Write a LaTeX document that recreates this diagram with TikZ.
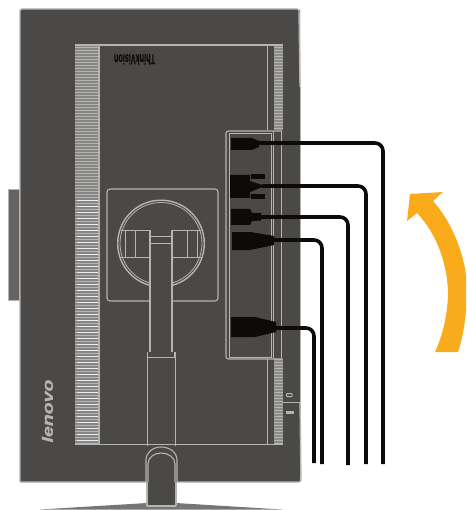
\documentclass[tikz,border=0pt]{standalone}
\usepackage{fontspec}
\setmainfont{Liberation Sans}
\newfontface\brandface[FakeBold=1.2]{Liberation Sans Bold Italic}
\newfontface\seriesface[FakeBold=0.8]{Liberation Sans Bold}
\definecolor{body}{HTML}{4B4947}
\definecolor{edge}{HTML}{B4B4B2}
\definecolor{vent}{HTML}{8C8B89}
\definecolor{ink}{HTML}{0C0B0A}
\definecolor{amber}{HTML}{F9AB1C}
\tikzset{
  outline/.style={draw=edge,line width=1.1pt},
  thinline/.style={draw=edge,line width=0.8pt},
  cable/.style={draw=ink,line width=3.6pt,rounded corners=8pt},
  plug/.style={fill=ink,draw=none}
}
\begin{document}
\begin{tikzpicture}[x=1pt,y=-1pt]
\useasboundingbox (0,0) rectangle (466,510);
% base
\fill[fill=vent!85!black] (40,509.5) -- (147,503) -- (176,503) -- (282,509.5) -- cycle;
% side piece
\fill[body!85!white,draw=edge,line width=1pt] (8.5,190) rectangle (19,300);
% body
\fill[body] (20,9) [rounded corners=2pt] -- (20,482) -- (300,482) -- (300,9) -- cycle;
\draw[edge,line width=1.4pt,rounded corners=2pt] (20,482) -- (20,9) -- (299,9) -- (300,87);
\draw[edge,line width=1.4pt,rounded corners=2pt] (300,402) -- (301,482) -- (20,482);
\draw[edge,line width=0.5pt] (300,87) -- (300,402);
\draw[thinline] (282,402) -- (301,402);
% left vent
\fill[vent!92!body] (75,45) rectangle (99,445);
\foreach \y in {47,50,...,443} \draw[edge,line width=0.4pt] (75,\y) -- (99,\y);
\foreach \y in {200,206,...,442} \draw[white!85!gray,line width=0.5pt] (77,\y) -- (99,\y);
\draw[outline] (99,45) -- (99,445);
% right vent
\fill[vent] (274,45) rectangle (283,445);
\foreach \y in {47,50,...,443} \draw[edge,line width=0.6pt] (274,\y) -- (283,\y);
% frame lines
\draw[outline] (75,45) -- (283,45);
\draw[outline] (75,444.5) -- (283,444.5);
\draw[thinline] (267,45) -- (267,130);
\draw[thinline] (267,359) -- (267,444);
% port panel
\fill[body] (226,130) rectangle (284,359);
\draw[outline,rounded corners=2.5pt] (282,131) -- (226,131) -- (226,359) -- (282,359);
\draw[thinline] (229,133) rectangle (271,357);
\draw[thinline] (273,131) -- (273,359);
\draw[thinline] (281,131) -- (281,359);
% stand plate
\draw[outline,rounded corners=3pt] (107,189) rectangle (218,301);
\fill[body] (118,240) rectangle (204,285);
\draw[edge,line width=1.4pt] (161,243.5) circle (43.3);
\draw[thinline] (161,243.5) circle (41);
\fill[body] (150,285) rectangle (172,300);
\draw[thinline] (121,230) -- (201,230);
\draw[thinline] (121,257.5) -- (150,257.5) (172,257.5) -- (201,257.5);
\foreach \x in {125,135,187,197} \draw[thinline] (\x,230) -- (\x,257.5);
% column
\fill[body] (150,230) rectangle (172,352);
\draw[outline] (150,230) -- (150,352) (172,230) -- (172,352);
\draw[thinline] (150,236) -- (172,236) (150,243) -- (172,243);
\draw[outline] (147.5,352) -- (147.5,358) (175,352) -- (175,358);
\draw[outline] (147.5,357.5) -- (175,357.5);
\draw[outline] (147.5,357.5) -- (147.5,446) (175.5,357.5) -- (175.5,446);
% arch and lower column
\fill[body] (146,482) -- (146,460) to[out=90,in=180] (161,447) to[out=0,in=90] (177,460) -- (177,482) -- cycle;
\draw[outline] (146,482) -- (146,460) to[out=90,in=180] (161,447) to[out=0,in=90] (177,460) -- (177,482);
\draw[outline] (148,482) -- (148,464) to[out=90,in=180] (161,453) to[out=0,in=90] (175,464) -- (175,482);
\fill[body] (147,482) rectangle (176,506);
\draw[outline] (147,482) -- (147,506) (176,482) -- (176,506);
\draw[outline] (147,506) -- (176,506);
% small marks
\draw[edge,line width=1pt,rounded corners=0.5pt] (286.5,393.5) rectangle (292,396.5);
\fill[edge] (286,410.5) rectangle (294,414);
% texts
\node[text=edge,rotate=90,inner sep=0pt] (brand) at (47.5,411) {\scalebox{1.3}[1]{\brandface\fontsize{15}{15}\selectfont lenovo}};
\node[text=ink,rotate=180,inner sep=0pt] (series) at (134.5,59.5) {\scalebox{0.52}[1]{\seriesface\fontsize{14}{14}\selectfont ThinkVision}};
% cables
\draw[cable] (259,143) -- (383,143) -- (383,464);
\draw[cable] (262,186) -- (366,186) -- (366,464);
\draw[cable] (258,217) -- (348,217) -- (348,465);
\draw[cable] (272,240) -- (322,240) -- (322,464);
\draw[cable] (274,328) -- (314,328) -- (314,463);
% plugs
\fill[plug] (231,138) -- (252,138) -- (259,141) -- (259,147) -- (252,150) -- (231,150) -- cycle;
\fill[plug] (230,175) -- (250,175) -- (250,181) -- (265,186) -- (250,192) -- (250,198) -- (230,198) -- cycle;
\fill[plug] (251,174) rectangle (265,179);
\fill[plug] (251,194) rectangle (265,199);
\fill[plug] (231,209) -- (250,209) -- (252,213) -- (261,213) -- (261,220.5) -- (252,221) -- (250,225) -- (231,225) -- cycle;
\fill[plug] (232,232) -- (250,232) -- (274,236) -- (274,245) -- (250,250) -- (232,250) -- cycle;
\fill[plug] (231,317) -- (255,317) -- (276,322) -- (276,332) -- (255,337) -- (231,337) -- cycle;
% arrow
\fill[amber] (407,221) -- (410,194) -- (443,192) -- (433,201)
  .. controls (452,222) and (463,252) .. (466,275) -- (466,310)
  .. controls (465,325) and (462,340) .. (458,352) -- (435,352)
  .. controls (443,335) and (448,312) .. (448,292)
  .. controls (447,262) and (436,233) .. (417,213) -- cycle;
\end{tikzpicture}
\end{document}
